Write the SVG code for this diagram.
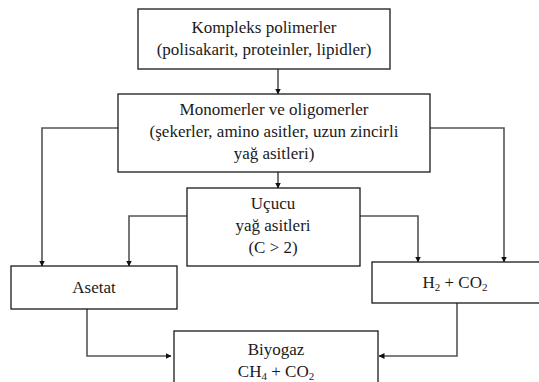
<svg xmlns="http://www.w3.org/2000/svg" width="539" height="382" viewBox="0 0 539 382">
  <defs>
    <style>
      .box { fill: #ffffff; stroke: #1a1a1a; stroke-width: 1.3; }
      .lbl { font-family: "Liberation Serif", "Times New Roman", Times, "Nimbus Roman", "FreeSerif", "Noto Serif", "DejaVu Serif", serif; font-size: 17px; fill: #1a1a1a; text-anchor: middle; }
      .sub { font-size: 11px; }
      .conn { fill: none; stroke: #555555; stroke-width: 1.6; marker-end: url(#arrow); }
    </style>
    <marker id="arrow" viewBox="0 0 6 6" refX="5.5" refY="3" markerWidth="6" markerHeight="6" markerUnits="userSpaceOnUse" orient="auto">
      <path d="M0,0 L6,3 L0,6 z" fill="#111111"/>
    </marker>
  </defs>

  <rect width="539" height="382" fill="#ffffff"/>

  <g id="connectors">
    <path class="conn" d="M278,69 V94"/>
    <path class="conn" d="M278,172 V188"/>
    <path class="conn" d="M118,128 H42 V266"/>
    <path class="conn" d="M430,128 H504 V262"/>
    <path class="conn" d="M187,216 H129 V266"/>
    <path class="conn" d="M360,216 H418 V262"/>
    <path class="conn" d="M87,309 V356 H171"/>
    <path class="conn" d="M457,303 V356 H379"/>
  </g>

  <g id="kompleks">
    <rect class="box" x="138" y="9" width="252" height="60"/>
    <text class="lbl" x="264" y="33">Kompleks polimerler</text>
    <text class="lbl" x="264" y="55">(polisakarit, proteinler, lipidler)</text>
  </g>

  <g id="monomerler">
    <rect class="box" x="118" y="94" width="312" height="78"/>
    <text class="lbl" x="274" y="115">Monomerler ve oligomerler</text>
    <text class="lbl" x="274" y="137">(şekerler, amino asitler, uzun zincirli</text>
    <text class="lbl" x="274" y="159">yağ asitleri)</text>
  </g>

  <g id="ucucu">
    <rect class="box" x="187" y="188" width="173" height="78"/>
    <text class="lbl" x="273" y="209">Uçucu</text>
    <text class="lbl" x="273" y="231">yağ asitleri</text>
    <text class="lbl" x="273" y="253">(C &gt; 2)</text>
  </g>

  <g id="asetat">
    <rect class="box" x="11" y="266" width="166" height="43"/>
    <text class="lbl" x="94" y="293">Asetat</text>
  </g>

  <g id="h2co2">
    <rect class="box" x="372" y="262" width="170" height="41"/>
    <text class="lbl" x="455" y="288">H<tspan class="sub" dy="3">2</tspan><tspan dy="-3"> + CO</tspan><tspan class="sub" dy="3">2</tspan></text>
  </g>

  <g id="biyogaz">
    <rect class="box" x="174" y="331" width="204" height="60"/>
    <text class="lbl" x="276" y="355">Biyogaz</text>
    <text class="lbl" x="276" y="377">CH<tspan class="sub" dy="3">4</tspan><tspan dy="-3"> + CO</tspan><tspan class="sub" dy="3">2</tspan></text>
  </g>
</svg>
